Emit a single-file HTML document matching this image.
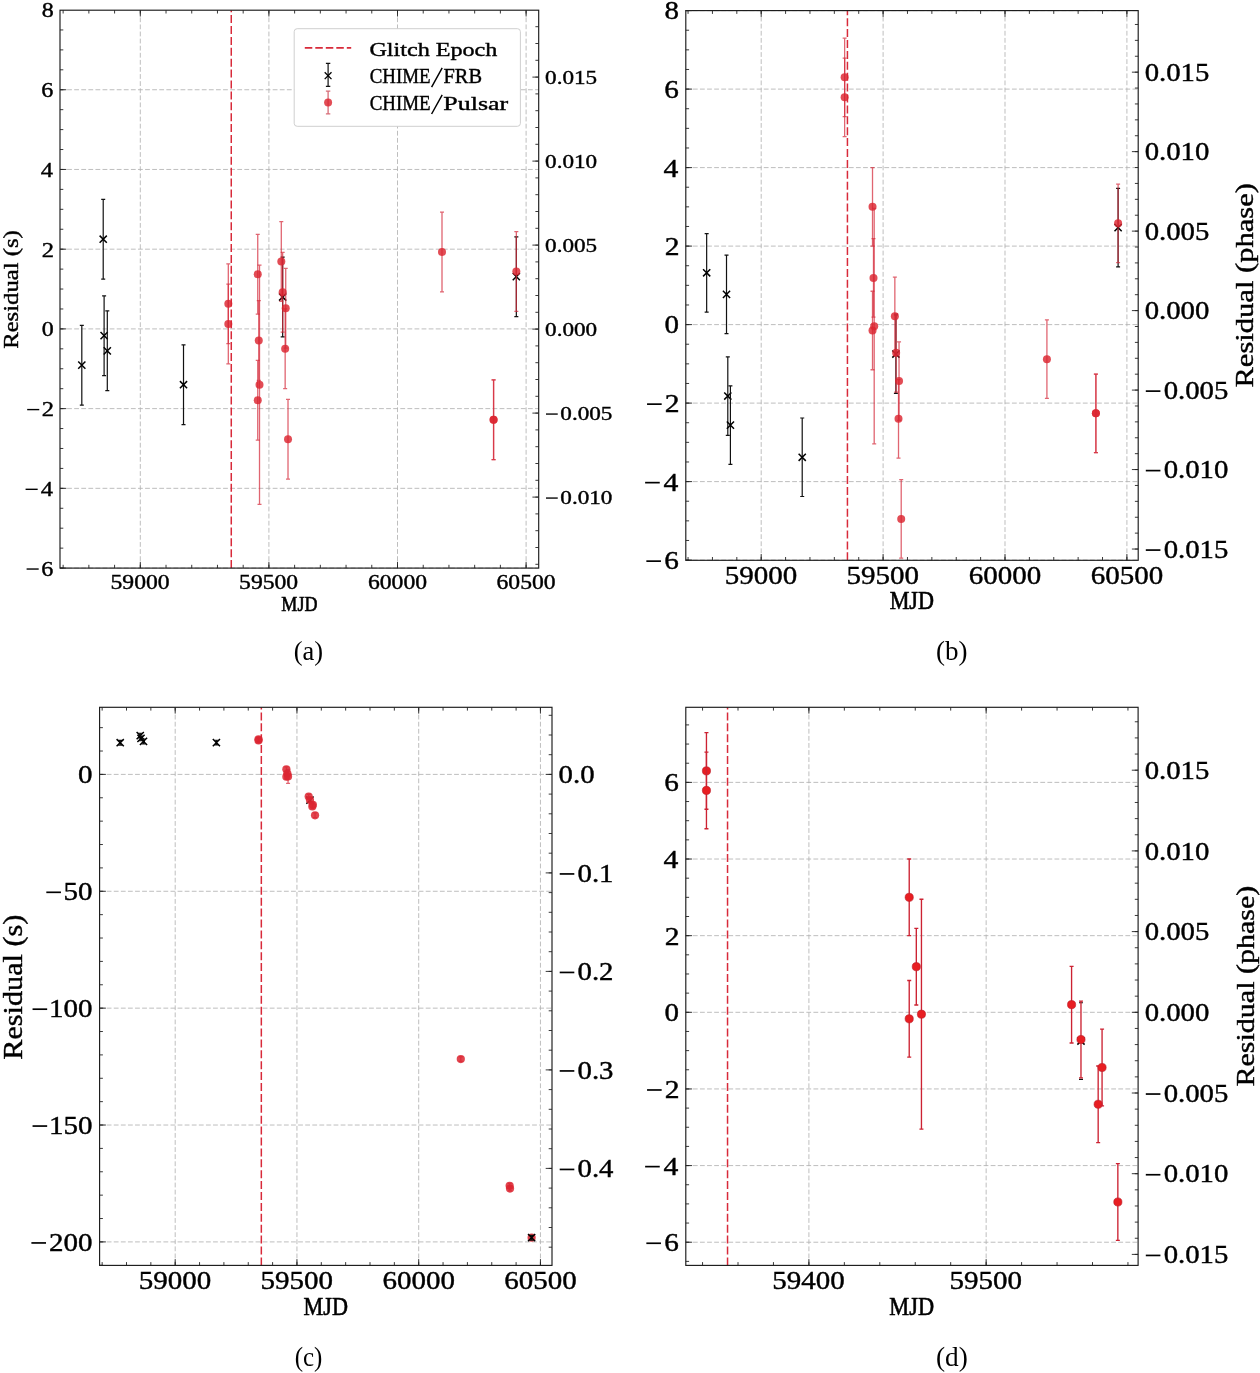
<!DOCTYPE html>
<html><head><meta charset="utf-8"><title>Residuals</title>
<style>html,body{margin:0;padding:0;background:#fff;}svg{display:block;will-change:transform;}text{font-family:"Liberation Serif",serif;stroke:#000;stroke-width:0.4px;}</style>
</head><body>
<svg width="1260" height="1373" viewBox="0 0 1260 1373" font-family='"Liberation Serif", serif' fill="#000">
<rect width="1260" height="1373" fill="#fff"/>
<g>
<line x1="140.3" y1="568.1" x2="140.3" y2="10.2" stroke="#b2b2b2" stroke-width="0.85" stroke-dasharray="4.8 2.29"/>
<line x1="268.9" y1="568.1" x2="268.9" y2="10.2" stroke="#b2b2b2" stroke-width="0.85" stroke-dasharray="4.8 2.29"/>
<line x1="397.5" y1="568.1" x2="397.5" y2="10.2" stroke="#b2b2b2" stroke-width="0.85" stroke-dasharray="4.8 2.29"/>
<line x1="526.1" y1="568.1" x2="526.1" y2="10.2" stroke="#b2b2b2" stroke-width="0.85" stroke-dasharray="4.8 2.29"/>
<line x1="60" y1="568.06" x2="538.7" y2="568.06" stroke="#b2b2b2" stroke-width="0.85" stroke-dasharray="4.8 2.29"/>
<line x1="60" y1="488.34" x2="538.7" y2="488.34" stroke="#b2b2b2" stroke-width="0.85" stroke-dasharray="4.8 2.29"/>
<line x1="60" y1="408.62" x2="538.7" y2="408.62" stroke="#b2b2b2" stroke-width="0.85" stroke-dasharray="4.8 2.29"/>
<line x1="60" y1="328.9" x2="538.7" y2="328.9" stroke="#b2b2b2" stroke-width="0.85" stroke-dasharray="4.8 2.29"/>
<line x1="60" y1="249.18" x2="538.7" y2="249.18" stroke="#b2b2b2" stroke-width="0.85" stroke-dasharray="4.8 2.29"/>
<line x1="60" y1="169.46" x2="538.7" y2="169.46" stroke="#b2b2b2" stroke-width="0.85" stroke-dasharray="4.8 2.29"/>
<line x1="60" y1="89.74" x2="538.7" y2="89.74" stroke="#b2b2b2" stroke-width="0.85" stroke-dasharray="4.8 2.29"/>
<clipPath id="ca"><rect x="60" y="10.2" width="478.7" height="557.9"/></clipPath>
<g clip-path="url(#ca)">
<line x1="231.27" y1="568.1" x2="231.27" y2="10.2" stroke="#d82a3a" stroke-width="1.5" stroke-dasharray="8 2.9"/>
<path d="M81.81 325.31V405.03M79.81 325.31H83.81M79.81 405.03H83.81" stroke="#111" stroke-width="1.2" fill="none"/>
<path d="M78.21 361.57L85.41 368.77M78.21 368.77L85.41 361.57" stroke="#000" stroke-width="1.5" fill="none"/>
<path d="M103.21 199.35V279.07M101.21 199.35H105.21M101.21 279.07H105.21" stroke="#111" stroke-width="1.2" fill="none"/>
<path d="M99.61 235.61L106.81 242.81M99.61 242.81L106.81 235.61" stroke="#000" stroke-width="1.5" fill="none"/>
<path d="M104.11 295.82V375.54M102.11 295.82H106.11M102.11 375.54H106.11" stroke="#111" stroke-width="1.2" fill="none"/>
<path d="M100.51 332.08L107.71 339.28M100.51 339.28L107.71 332.08" stroke="#000" stroke-width="1.5" fill="none"/>
<path d="M107.3 310.96V390.68M105.3 310.96H109.3M105.3 390.68H109.3" stroke="#111" stroke-width="1.2" fill="none"/>
<path d="M103.7 347.22L110.9 354.42M103.7 354.42L110.9 347.22" stroke="#000" stroke-width="1.5" fill="none"/>
<path d="M183.51 344.84V424.56M181.51 344.84H185.51M181.51 424.56H185.51" stroke="#111" stroke-width="1.2" fill="none"/>
<path d="M179.91 381.1L187.11 388.3M179.91 388.3L187.11 381.1" stroke="#000" stroke-width="1.5" fill="none"/>
<path d="M282.66 257.15V336.87M280.66 257.15H284.66M280.66 336.87H284.66" stroke="#111" stroke-width="1.2" fill="none"/>
<path d="M279.06 293.41L286.26 300.61M279.06 300.61L286.26 293.41" stroke="#000" stroke-width="1.5" fill="none"/>
<path d="M516.33 236.82V316.54M514.33 236.82H518.33M514.33 316.54H518.33" stroke="#111" stroke-width="1.2" fill="none"/>
<path d="M512.73 273.08L519.93 280.28M512.73 280.28L519.93 273.08" stroke="#000" stroke-width="1.5" fill="none"/>
<path d="M228.31 263.93V343.65M226.31 263.93H230.31M226.31 343.65H230.31" stroke="#d42a3a" stroke-opacity="0.72" stroke-width="1.3" fill="none"/>
<circle cx="228.31" cy="303.79" r="4.0" fill="#dc2430" fill-opacity="0.82" />
<path d="M228.31 284.06V363.78M226.31 284.06H230.31M226.31 363.78H230.31" stroke="#d42a3a" stroke-opacity="0.72" stroke-width="1.3" fill="none"/>
<circle cx="228.31" cy="323.92" r="4.0" fill="#dc2430" fill-opacity="0.82" />
<path d="M257.74 234.43V314.15M255.74 234.43H259.74M255.74 314.15H259.74" stroke="#d42a3a" stroke-opacity="0.72" stroke-width="1.3" fill="none"/>
<circle cx="257.74" cy="274.29" r="4.0" fill="#dc2430" fill-opacity="0.82" />
<path d="M257.74 360.39V440.11M255.74 360.39H259.74M255.74 440.11H259.74" stroke="#d42a3a" stroke-opacity="0.72" stroke-width="1.3" fill="none"/>
<circle cx="257.74" cy="400.25" r="4.0" fill="#dc2430" fill-opacity="0.82" />
<path d="M258.77 300.6V380.32M256.77 300.6H260.77M256.77 380.32H260.77" stroke="#d42a3a" stroke-opacity="0.72" stroke-width="1.3" fill="none"/>
<circle cx="258.77" cy="340.46" r="4.0" fill="#dc2430" fill-opacity="0.82" />
<path d="M259.51 265.12V504.28M257.51 265.12H261.51M257.51 504.28H261.51" stroke="#d42a3a" stroke-opacity="0.72" stroke-width="1.3" fill="none"/>
<circle cx="259.51" cy="384.7" r="4.0" fill="#dc2430" fill-opacity="0.82" />
<path d="M281.3 221.68V301.4M279.3 221.68H283.3M279.3 301.4H283.3" stroke="#d42a3a" stroke-opacity="0.72" stroke-width="1.3" fill="none"/>
<circle cx="281.3" cy="261.54" r="4.0" fill="#dc2430" fill-opacity="0.82" />
<path d="M282.66 252.37V332.09M280.66 252.37H284.66M280.66 332.09H284.66" stroke="#d42a3a" stroke-opacity="0.72" stroke-width="1.3" fill="none"/>
<circle cx="282.66" cy="292.23" r="4.0" fill="#dc2430" fill-opacity="0.82" />
<path d="M285.16 308.97V388.69M283.16 308.97H287.16M283.16 388.69H287.16" stroke="#d42a3a" stroke-opacity="0.72" stroke-width="1.3" fill="none"/>
<circle cx="285.16" cy="348.83" r="4.0" fill="#dc2430" fill-opacity="0.82" />
<path d="M285.72 268.31V348.03M283.72 268.31H287.72M283.72 348.03H287.72" stroke="#d42a3a" stroke-opacity="0.72" stroke-width="1.3" fill="none"/>
<circle cx="285.72" cy="308.17" r="4.0" fill="#dc2430" fill-opacity="0.82" />
<path d="M288.01 399.45V479.17M286.01 399.45H290.01M286.01 479.17H290.01" stroke="#d42a3a" stroke-opacity="0.72" stroke-width="1.3" fill="none"/>
<circle cx="288.01" cy="439.31" r="4.0" fill="#dc2430" fill-opacity="0.82" />
<path d="M442 212.11V291.83M440 212.11H444M440 291.83H444" stroke="#d42a3a" stroke-opacity="0.72" stroke-width="1.3" fill="none"/>
<circle cx="442" cy="251.97" r="4.0" fill="#dc2430" fill-opacity="0.82" />
<path d="M493.59 379.92V459.64M491.59 379.92H495.59M491.59 459.64H495.59" stroke="#d42a3a" stroke-opacity="0.72" stroke-width="1.3" fill="none"/>
<circle cx="493.59" cy="419.78" r="4.0" fill="#dc2430" fill-opacity="0.82" />
<path d="M493.59 379.92V459.64M491.59 379.92H495.59M491.59 459.64H495.59" stroke="#d42a3a" stroke-opacity="0.72" stroke-width="1.3" fill="none"/>
<circle cx="493.59" cy="419.78" r="4.0" fill="#dc2430" fill-opacity="0.82" />
<path d="M516.33 231.64V311.36M514.33 231.64H518.33M514.33 311.36H518.33" stroke="#d42a3a" stroke-opacity="0.72" stroke-width="1.3" fill="none"/>
<circle cx="516.33" cy="271.5" r="4.0" fill="#dc2430" fill-opacity="0.82" />
</g>
<rect x="60" y="10.2" width="478.7" height="557.9" fill="none" stroke="#1a1a1a" stroke-width="1.15"/>
<path d="M63.14 568.1v-3.3M63.14 10.2v3.3M88.86 568.1v-3.3M88.86 10.2v3.3M114.58 568.1v-3.3M114.58 10.2v3.3M140.3 568.1v-3.3M140.3 10.2v3.3M166.02 568.1v-3.3M166.02 10.2v3.3M191.74 568.1v-3.3M191.74 10.2v3.3M217.46 568.1v-3.3M217.46 10.2v3.3M243.18 568.1v-3.3M243.18 10.2v3.3M268.9 568.1v-3.3M268.9 10.2v3.3M294.62 568.1v-3.3M294.62 10.2v3.3M320.34 568.1v-3.3M320.34 10.2v3.3M346.06 568.1v-3.3M346.06 10.2v3.3M371.78 568.1v-3.3M371.78 10.2v3.3M397.5 568.1v-3.3M397.5 10.2v3.3M423.22 568.1v-3.3M423.22 10.2v3.3M448.94 568.1v-3.3M448.94 10.2v3.3M474.66 568.1v-3.3M474.66 10.2v3.3M500.38 568.1v-3.3M500.38 10.2v3.3M526.1 568.1v-3.3M526.1 10.2v3.3M140.3 568.1v-6.3M140.3 10.2v6.3M268.9 568.1v-6.3M268.9 10.2v6.3M397.5 568.1v-6.3M397.5 10.2v6.3M526.1 568.1v-6.3M526.1 10.2v6.3M60 568.06h3.3M60 548.13h3.3M60 528.2h3.3M60 508.27h3.3M60 488.34h3.3M60 468.41h3.3M60 448.48h3.3M60 428.55h3.3M60 408.62h3.3M60 388.69h3.3M60 368.76h3.3M60 348.83h3.3M60 328.9h3.3M60 308.97h3.3M60 289.04h3.3M60 269.11h3.3M60 249.18h3.3M60 229.25h3.3M60 209.32h3.3M60 189.39h3.3M60 169.46h3.3M60 149.53h3.3M60 129.6h3.3M60 109.67h3.3M60 89.74h3.3M60 69.81h3.3M60 49.88h3.3M60 29.95h3.3M60 568.06h6.3M60 488.34h6.3M60 408.62h6.3M60 328.9h6.3M60 249.18h6.3M60 169.46h6.3M60 89.74h6.3M538.7 564.3h-3.3M538.7 547.5h-3.3M538.7 530.7h-3.3M538.7 513.9h-3.3M538.7 497.1h-3.3M538.7 480.3h-3.3M538.7 463.5h-3.3M538.7 446.7h-3.3M538.7 429.9h-3.3M538.7 413.1h-3.3M538.7 396.3h-3.3M538.7 379.5h-3.3M538.7 362.7h-3.3M538.7 345.9h-3.3M538.7 329.1h-3.3M538.7 312.3h-3.3M538.7 295.5h-3.3M538.7 278.7h-3.3M538.7 261.9h-3.3M538.7 245.1h-3.3M538.7 228.3h-3.3M538.7 211.5h-3.3M538.7 194.7h-3.3M538.7 177.9h-3.3M538.7 161.1h-3.3M538.7 144.3h-3.3M538.7 127.5h-3.3M538.7 110.7h-3.3M538.7 93.9h-3.3M538.7 77.1h-3.3M538.7 60.3h-3.3M538.7 43.5h-3.3M538.7 26.7h-3.3M538.7 77.1h-6.3M538.7 161.1h-6.3M538.7 245.1h-6.3M538.7 329.1h-6.3M538.7 413.1h-6.3M538.7 497.1h-6.3" stroke="#222" stroke-width="0.9" fill="none"/>
<rect x="26.6" y="568.34" width="12.09" height="1.39"/>
<text transform="translate(41.34,575.5) scale(1.1650,1)" font-size="20.746">6</text>
<rect x="25.58" y="488.62" width="12.09" height="1.39"/>
<text transform="translate(40.8,495.99) scale(1.1650,1)" font-size="21.061">4</text>
<rect x="27.18" y="408.9" width="12.09" height="1.39"/>
<text transform="translate(41.78,416.27) scale(1.1650,1)" font-size="21.061">2</text>
<text transform="translate(41.66,336.34) scale(1.1650,1)" font-size="20.593">0</text>
<text transform="translate(41.78,256.83) scale(1.1650,1)" font-size="21.061">2</text>
<text transform="translate(40.8,177.11) scale(1.1650,1)" font-size="21.061">4</text>
<text transform="translate(41.34,97.18) scale(1.1650,1)" font-size="20.746">6</text>
<text transform="translate(41.66,17.46) scale(1.1650,1)" font-size="20.593">8</text>
<text transform="translate(545.07,84.25) scale(1.1650,1)" font-size="19.853">0.015</text>
<text transform="translate(545.07,168.25) scale(1.1650,1)" font-size="19.853">0.010</text>
<text transform="translate(545.07,252.25) scale(1.1650,1)" font-size="19.853">0.005</text>
<text transform="translate(545.07,336.25) scale(1.1650,1)" font-size="19.853">0.000</text>
<rect x="546" y="413.39" width="11.74" height="1.35"/>
<text transform="translate(560.33,420.25) scale(1.1650,1)" font-size="19.853">0.005</text>
<rect x="546" y="497.39" width="11.74" height="1.35"/>
<text transform="translate(560.33,504.25) scale(1.1650,1)" font-size="19.853">0.010</text>
<text transform="translate(110.51,588.5) scale(1.1650,1)" font-size="20.296">59000</text>
<text transform="translate(239.11,588.5) scale(1.1650,1)" font-size="20.296">59500</text>
<text transform="translate(367.94,588.5) scale(1.1650,1)" font-size="20.296">60000</text>
<text transform="translate(496.54,588.5) scale(1.1650,1)" font-size="20.296">60500</text>
</g>
<g>
<line x1="761.2" y1="560.3" x2="761.2" y2="10.6" stroke="#b2b2b2" stroke-width="0.85" stroke-dasharray="4.8 2.29"/>
<line x1="883.1" y1="560.3" x2="883.1" y2="10.6" stroke="#b2b2b2" stroke-width="0.85" stroke-dasharray="4.8 2.29"/>
<line x1="1005" y1="560.3" x2="1005" y2="10.6" stroke="#b2b2b2" stroke-width="0.85" stroke-dasharray="4.8 2.29"/>
<line x1="1126.9" y1="560.3" x2="1126.9" y2="10.6" stroke="#b2b2b2" stroke-width="0.85" stroke-dasharray="4.8 2.29"/>
<line x1="685.8" y1="560.1" x2="1138.2" y2="560.1" stroke="#b2b2b2" stroke-width="0.85" stroke-dasharray="4.8 2.29"/>
<line x1="685.8" y1="481.6" x2="1138.2" y2="481.6" stroke="#b2b2b2" stroke-width="0.85" stroke-dasharray="4.8 2.29"/>
<line x1="685.8" y1="403.1" x2="1138.2" y2="403.1" stroke="#b2b2b2" stroke-width="0.85" stroke-dasharray="4.8 2.29"/>
<line x1="685.8" y1="324.6" x2="1138.2" y2="324.6" stroke="#b2b2b2" stroke-width="0.85" stroke-dasharray="4.8 2.29"/>
<line x1="685.8" y1="246.1" x2="1138.2" y2="246.1" stroke="#b2b2b2" stroke-width="0.85" stroke-dasharray="4.8 2.29"/>
<line x1="685.8" y1="167.6" x2="1138.2" y2="167.6" stroke="#b2b2b2" stroke-width="0.85" stroke-dasharray="4.8 2.29"/>
<line x1="685.8" y1="89.1" x2="1138.2" y2="89.1" stroke="#b2b2b2" stroke-width="0.85" stroke-dasharray="4.8 2.29"/>
<line x1="685.8" y1="10.6" x2="1138.2" y2="10.6" stroke="#b2b2b2" stroke-width="0.85" stroke-dasharray="4.8 2.29"/>
<clipPath id="cb"><rect x="685.8" y="10.6" width="452.4" height="549.7"/></clipPath>
<g clip-path="url(#cb)">
<line x1="847.43" y1="560.3" x2="847.43" y2="10.6" stroke="#d82a3a" stroke-width="1.5" stroke-dasharray="8 2.9"/>
<path d="M706.66 233.54V312.04M704.66 233.54H708.66M704.66 312.04H708.66" stroke="#111" stroke-width="1.2" fill="none"/>
<path d="M703.06 269.19L710.26 276.39M703.06 276.39L710.26 269.19" stroke="#000" stroke-width="1.5" fill="none"/>
<path d="M726.51 255.13V333.63M724.51 255.13H728.51M724.51 333.63H728.51" stroke="#111" stroke-width="1.2" fill="none"/>
<path d="M722.91 290.78L730.11 297.98M722.91 297.98L730.11 290.78" stroke="#000" stroke-width="1.5" fill="none"/>
<path d="M727.8 356.79V435.29M725.8 356.79H729.8M725.8 435.29H729.8" stroke="#111" stroke-width="1.2" fill="none"/>
<path d="M724.2 392.44L731.4 399.64M724.2 399.64L731.4 392.44" stroke="#000" stroke-width="1.5" fill="none"/>
<path d="M730.41 385.83V464.33M728.41 385.83H732.41M728.41 464.33H732.41" stroke="#111" stroke-width="1.2" fill="none"/>
<path d="M726.81 421.48L734.01 428.68M726.81 428.68L734.01 421.48" stroke="#000" stroke-width="1.5" fill="none"/>
<path d="M802.21 418.01V496.51M800.21 418.01H804.21M800.21 496.51H804.21" stroke="#111" stroke-width="1.2" fill="none"/>
<path d="M798.61 453.66L805.81 460.87M798.61 460.87L805.81 453.66" stroke="#000" stroke-width="1.5" fill="none"/>
<path d="M895.9 314.79V393.29M893.9 314.79H897.9M893.9 393.29H897.9" stroke="#111" stroke-width="1.2" fill="none"/>
<path d="M892.3 350.44L899.5 357.64M892.3 357.64L899.5 350.44" stroke="#000" stroke-width="1.5" fill="none"/>
<path d="M1118.1 188.4V266.9M1116.1 188.4H1120.1M1116.1 266.9H1120.1" stroke="#111" stroke-width="1.2" fill="none"/>
<path d="M1114.5 224.05L1121.7 231.25M1114.5 231.25L1121.7 224.05" stroke="#000" stroke-width="1.5" fill="none"/>
<path d="M844.63 38.08V116.58M842.63 38.08H846.63M842.63 116.58H846.63" stroke="#d42a3a" stroke-opacity="0.72" stroke-width="1.3" fill="none"/>
<circle cx="844.63" cy="77.33" r="4.0" fill="#dc2430" fill-opacity="0.82" />
<path d="M844.63 58.09V136.59M842.63 58.09H846.63M842.63 136.59H846.63" stroke="#d42a3a" stroke-opacity="0.72" stroke-width="1.3" fill="none"/>
<circle cx="844.63" cy="97.34" r="4.0" fill="#dc2430" fill-opacity="0.82" />
<path d="M872.52 167.6V246.1M870.52 167.6H874.52M870.52 246.1H874.52" stroke="#d42a3a" stroke-opacity="0.72" stroke-width="1.3" fill="none"/>
<circle cx="872.52" cy="206.85" r="4.0" fill="#dc2430" fill-opacity="0.82" />
<path d="M872.52 291.24V369.74M870.52 291.24H874.52M870.52 369.74H874.52" stroke="#d42a3a" stroke-opacity="0.72" stroke-width="1.3" fill="none"/>
<circle cx="872.52" cy="330.49" r="4.0" fill="#dc2430" fill-opacity="0.82" />
<path d="M873.49 238.64V317.14M871.49 238.64H875.49M871.49 317.14H875.49" stroke="#d42a3a" stroke-opacity="0.72" stroke-width="1.3" fill="none"/>
<circle cx="873.49" cy="277.89" r="4.0" fill="#dc2430" fill-opacity="0.82" />
<path d="M874.2 208.42V443.92M872.2 208.42H876.2M872.2 443.92H876.2" stroke="#d42a3a" stroke-opacity="0.72" stroke-width="1.3" fill="none"/>
<circle cx="874.2" cy="326.17" r="4.0" fill="#dc2430" fill-opacity="0.82" />
<path d="M894.85 277.11V355.61M892.85 277.11H896.85M892.85 355.61H896.85" stroke="#d42a3a" stroke-opacity="0.72" stroke-width="1.3" fill="none"/>
<circle cx="894.85" cy="316.36" r="4.0" fill="#dc2430" fill-opacity="0.82" />
<path d="M896.14 313.61V392.11M894.14 313.61H898.14M894.14 392.11H898.14" stroke="#d42a3a" stroke-opacity="0.72" stroke-width="1.3" fill="none"/>
<circle cx="896.14" cy="352.86" r="4.0" fill="#dc2430" fill-opacity="0.82" />
<path d="M898.51 379.55V458.05M896.51 379.55H900.51M896.51 458.05H900.51" stroke="#d42a3a" stroke-opacity="0.72" stroke-width="1.3" fill="none"/>
<circle cx="898.51" cy="418.8" r="4.0" fill="#dc2430" fill-opacity="0.82" />
<path d="M899.04 341.87V420.37M897.04 341.87H901.04M897.04 420.37H901.04" stroke="#d42a3a" stroke-opacity="0.72" stroke-width="1.3" fill="none"/>
<circle cx="899.04" cy="381.12" r="4.0" fill="#dc2430" fill-opacity="0.82" />
<path d="M901.21 479.64V558.14M899.21 479.64H903.21M899.21 558.14H903.21" stroke="#d42a3a" stroke-opacity="0.72" stroke-width="1.3" fill="none"/>
<circle cx="901.21" cy="518.89" r="4.0" fill="#dc2430" fill-opacity="0.82" />
<path d="M1046.91 319.89V398.39M1044.91 319.89H1048.91M1044.91 398.39H1048.91" stroke="#d42a3a" stroke-opacity="0.72" stroke-width="1.3" fill="none"/>
<circle cx="1046.91" cy="359.14" r="4.0" fill="#dc2430" fill-opacity="0.82" />
<path d="M1095.89 374.06V452.56M1093.89 374.06H1097.89M1093.89 452.56H1097.89" stroke="#d42a3a" stroke-opacity="0.72" stroke-width="1.3" fill="none"/>
<circle cx="1095.89" cy="413.31" r="4.0" fill="#dc2430" fill-opacity="0.82" />
<path d="M1095.89 374.06V452.56M1093.89 374.06H1097.89M1093.89 452.56H1097.89" stroke="#d42a3a" stroke-opacity="0.72" stroke-width="1.3" fill="none"/>
<circle cx="1095.89" cy="413.31" r="4.0" fill="#dc2430" fill-opacity="0.82" />
<path d="M1118.1 184.09V262.59M1116.1 184.09H1120.1M1116.1 262.59H1120.1" stroke="#d42a3a" stroke-opacity="0.72" stroke-width="1.3" fill="none"/>
<circle cx="1118.1" cy="223.34" r="4.0" fill="#dc2430" fill-opacity="0.82" />
</g>
<rect x="685.8" y="10.6" width="452.4" height="549.7" fill="none" stroke="#1a1a1a" stroke-width="1.15"/>
<path d="M688.06 560.3v-3.3M688.06 10.6v3.3M712.44 560.3v-3.3M712.44 10.6v3.3M736.82 560.3v-3.3M736.82 10.6v3.3M761.2 560.3v-3.3M761.2 10.6v3.3M785.58 560.3v-3.3M785.58 10.6v3.3M809.96 560.3v-3.3M809.96 10.6v3.3M834.34 560.3v-3.3M834.34 10.6v3.3M858.72 560.3v-3.3M858.72 10.6v3.3M883.1 560.3v-3.3M883.1 10.6v3.3M907.48 560.3v-3.3M907.48 10.6v3.3M931.86 560.3v-3.3M931.86 10.6v3.3M956.24 560.3v-3.3M956.24 10.6v3.3M980.62 560.3v-3.3M980.62 10.6v3.3M1005 560.3v-3.3M1005 10.6v3.3M1029.38 560.3v-3.3M1029.38 10.6v3.3M1053.76 560.3v-3.3M1053.76 10.6v3.3M1078.14 560.3v-3.3M1078.14 10.6v3.3M1102.52 560.3v-3.3M1102.52 10.6v3.3M1126.9 560.3v-3.3M1126.9 10.6v3.3M761.2 560.3v-6.3M761.2 10.6v6.3M883.1 560.3v-6.3M883.1 10.6v6.3M1005 560.3v-6.3M1005 10.6v6.3M1126.9 560.3v-6.3M1126.9 10.6v6.3M685.8 560.1h3.3M685.8 540.48h3.3M685.8 520.85h3.3M685.8 501.23h3.3M685.8 481.6h3.3M685.8 461.98h3.3M685.8 442.35h3.3M685.8 422.73h3.3M685.8 403.1h3.3M685.8 383.48h3.3M685.8 363.85h3.3M685.8 344.23h3.3M685.8 324.6h3.3M685.8 304.98h3.3M685.8 285.35h3.3M685.8 265.73h3.3M685.8 246.1h3.3M685.8 226.48h3.3M685.8 206.85h3.3M685.8 187.23h3.3M685.8 167.6h3.3M685.8 147.98h3.3M685.8 128.35h3.3M685.8 108.73h3.3M685.8 89.1h3.3M685.8 69.48h3.3M685.8 49.85h3.3M685.8 30.23h3.3M685.8 10.6h3.3M685.8 560.1h6.3M685.8 481.6h6.3M685.8 403.1h6.3M685.8 324.6h6.3M685.8 246.1h6.3M685.8 167.6h6.3M685.8 89.1h6.3M685.8 10.6h6.3M1138.2 549.04h-3.3M1138.2 533.14h-3.3M1138.2 517.25h-3.3M1138.2 501.35h-3.3M1138.2 485.46h-3.3M1138.2 469.56h-3.3M1138.2 453.66h-3.3M1138.2 437.77h-3.3M1138.2 421.87h-3.3M1138.2 405.98h-3.3M1138.2 390.08h-3.3M1138.2 374.18h-3.3M1138.2 358.29h-3.3M1138.2 342.39h-3.3M1138.2 326.5h-3.3M1138.2 310.6h-3.3M1138.2 294.7h-3.3M1138.2 278.81h-3.3M1138.2 262.91h-3.3M1138.2 247.02h-3.3M1138.2 231.12h-3.3M1138.2 215.22h-3.3M1138.2 199.33h-3.3M1138.2 183.43h-3.3M1138.2 167.54h-3.3M1138.2 151.64h-3.3M1138.2 135.74h-3.3M1138.2 119.85h-3.3M1138.2 103.95h-3.3M1138.2 88.06h-3.3M1138.2 72.16h-3.3M1138.2 56.26h-3.3M1138.2 40.37h-3.3M1138.2 24.47h-3.3M1138.2 72.16h-6.3M1138.2 151.64h-6.3M1138.2 231.12h-6.3M1138.2 310.6h-6.3M1138.2 390.08h-6.3M1138.2 469.56h-6.3M1138.2 549.04h-6.3" stroke="#222" stroke-width="0.9" fill="none"/>
<rect x="646.35" y="560.3" width="14.62" height="1.68"/>
<text transform="translate(664.17,568.95) scale(1.1650,1)" font-size="25.075">6</text>
<rect x="645.13" y="481.8" width="14.62" height="1.68"/>
<text transform="translate(663.52,490.7) scale(1.1650,1)" font-size="25.455">4</text>
<rect x="647.05" y="403.3" width="14.62" height="1.68"/>
<text transform="translate(664.7,412.2) scale(1.1650,1)" font-size="25.455">2</text>
<text transform="translate(664.56,333.45) scale(1.1650,1)" font-size="24.889">0</text>
<text transform="translate(664.7,255.2) scale(1.1650,1)" font-size="25.455">2</text>
<text transform="translate(663.52,176.7) scale(1.1650,1)" font-size="25.455">4</text>
<text transform="translate(664.17,97.95) scale(1.1650,1)" font-size="25.075">6</text>
<text transform="translate(664.56,19.45) scale(1.1650,1)" font-size="24.889">8</text>
<text transform="translate(1144.65,80.89) scale(1.1650,1)" font-size="24.706">0.015</text>
<text transform="translate(1144.65,160.37) scale(1.1650,1)" font-size="24.706">0.010</text>
<text transform="translate(1144.65,239.85) scale(1.1650,1)" font-size="24.706">0.005</text>
<text transform="translate(1144.65,319.33) scale(1.1650,1)" font-size="24.706">0.000</text>
<rect x="1145.8" y="390.28" width="14.62" height="1.68"/>
<text transform="translate(1163.63,398.81) scale(1.1650,1)" font-size="24.706">0.005</text>
<rect x="1145.8" y="469.76" width="14.62" height="1.68"/>
<text transform="translate(1163.63,478.29) scale(1.1650,1)" font-size="24.706">0.010</text>
<rect x="1145.8" y="549.24" width="14.62" height="1.68"/>
<text transform="translate(1163.63,557.77) scale(1.1650,1)" font-size="24.706">0.015</text>
<text transform="translate(724.67,583.55) scale(1.1650,1)" font-size="24.889">59000</text>
<text transform="translate(846.57,583.55) scale(1.1650,1)" font-size="24.889">59500</text>
<text transform="translate(968.76,583.55) scale(1.1650,1)" font-size="24.889">60000</text>
<text transform="translate(1090.66,583.55) scale(1.1650,1)" font-size="24.889">60500</text>
</g>
<g>
<line x1="175.2" y1="1265.4" x2="175.2" y2="707.3" stroke="#b2b2b2" stroke-width="0.85" stroke-dasharray="4.8 2.29"/>
<line x1="296.95" y1="1265.4" x2="296.95" y2="707.3" stroke="#b2b2b2" stroke-width="0.85" stroke-dasharray="4.8 2.29"/>
<line x1="418.7" y1="1265.4" x2="418.7" y2="707.3" stroke="#b2b2b2" stroke-width="0.85" stroke-dasharray="4.8 2.29"/>
<line x1="540.45" y1="1265.4" x2="540.45" y2="707.3" stroke="#b2b2b2" stroke-width="0.85" stroke-dasharray="4.8 2.29"/>
<line x1="99.6" y1="1241.9" x2="552" y2="1241.9" stroke="#b2b2b2" stroke-width="0.85" stroke-dasharray="4.8 2.29"/>
<line x1="99.6" y1="1125.03" x2="552" y2="1125.03" stroke="#b2b2b2" stroke-width="0.85" stroke-dasharray="4.8 2.29"/>
<line x1="99.6" y1="1008.15" x2="552" y2="1008.15" stroke="#b2b2b2" stroke-width="0.85" stroke-dasharray="4.8 2.29"/>
<line x1="99.6" y1="891.27" x2="552" y2="891.27" stroke="#b2b2b2" stroke-width="0.85" stroke-dasharray="4.8 2.29"/>
<line x1="99.6" y1="774.4" x2="552" y2="774.4" stroke="#b2b2b2" stroke-width="0.85" stroke-dasharray="4.8 2.29"/>
<clipPath id="cc"><rect x="99.6" y="707.3" width="452.4" height="558.1"/></clipPath>
<g clip-path="url(#cc)">
<line x1="261.33" y1="1265.4" x2="261.33" y2="707.3" stroke="#d82a3a" stroke-width="1.5" stroke-dasharray="8 2.9"/>
<path d="M120.19 740.37V745.04M118.19 740.37H122.19M118.19 745.04H122.19" stroke="#111" stroke-width="1.2" fill="none"/>
<path d="M116.59 739.1L123.79 746.3M116.59 746.3L123.79 739.1" stroke="#000" stroke-width="1.5" fill="none"/>
<path d="M140.21 733.26V737.93M138.21 733.26H142.21M138.21 737.93H142.21" stroke="#111" stroke-width="1.2" fill="none"/>
<path d="M136.61 732L143.81 739.2M136.61 739.2L143.81 732" stroke="#000" stroke-width="1.5" fill="none"/>
<path d="M141.01 736.06V740.74M139.01 736.06H143.01M139.01 740.74H143.01" stroke="#111" stroke-width="1.2" fill="none"/>
<path d="M137.41 734.8L144.61 742M137.41 742L144.61 734.8" stroke="#000" stroke-width="1.5" fill="none"/>
<path d="M143.5 739.1V743.78M141.5 739.1H145.5M141.5 743.78H145.5" stroke="#111" stroke-width="1.2" fill="none"/>
<path d="M139.9 737.84L147.1 745.04M139.9 745.04L147.1 737.84" stroke="#000" stroke-width="1.5" fill="none"/>
<path d="M216.4 740.27V744.95M214.4 740.27H218.4M214.4 744.95H218.4" stroke="#111" stroke-width="1.2" fill="none"/>
<path d="M212.8 739.01L220 746.21M212.8 746.21L220 739.01" stroke="#000" stroke-width="1.5" fill="none"/>
<path d="M309.98 797.77V802.45M307.98 797.77H311.98M307.98 802.45H311.98" stroke="#111" stroke-width="1.2" fill="none"/>
<path d="M306.38 796.51L313.58 803.71M306.38 803.71L313.58 796.51" stroke="#000" stroke-width="1.5" fill="none"/>
<path d="M258.53 737V741.67M256.53 737H260.53M256.53 741.67H260.53" stroke="#d42a3a" stroke-opacity="0.72" stroke-width="1.3" fill="none"/>
<circle cx="258.53" cy="739.34" r="4.1" fill="#dc2430" fill-opacity="0.85" />
<path d="M258.53 738.17V742.84M256.53 738.17H260.53M256.53 742.84H260.53" stroke="#d42a3a" stroke-opacity="0.72" stroke-width="1.3" fill="none"/>
<circle cx="258.53" cy="740.51" r="4.1" fill="#dc2430" fill-opacity="0.85" />
<path d="M286.38 766.92V771.6M284.38 766.92H288.38M284.38 771.6H288.38" stroke="#d42a3a" stroke-opacity="0.72" stroke-width="1.3" fill="none"/>
<circle cx="286.38" cy="769.26" r="4.1" fill="#dc2430" fill-opacity="0.85" />
<path d="M286.38 774.33V779M284.38 774.33H288.38M284.38 779H288.38" stroke="#d42a3a" stroke-opacity="0.72" stroke-width="1.3" fill="none"/>
<circle cx="286.38" cy="776.67" r="4.1" fill="#dc2430" fill-opacity="0.85" />
<path d="M287.36 771.15V775.83M285.36 771.15H289.36M285.36 775.83H289.36" stroke="#d42a3a" stroke-opacity="0.72" stroke-width="1.3" fill="none"/>
<circle cx="287.36" cy="773.49" r="4.1" fill="#dc2430" fill-opacity="0.85" />
<path d="M288.06 769.37V783.4M286.06 769.37H290.06M286.06 783.4H290.06" stroke="#d42a3a" stroke-opacity="0.72" stroke-width="1.3" fill="none"/>
<circle cx="288.06" cy="776.39" r="4.1" fill="#dc2430" fill-opacity="0.85" />
<path d="M308.69 794.27V798.94M306.69 794.27H310.69M306.69 798.94H310.69" stroke="#d42a3a" stroke-opacity="0.72" stroke-width="1.3" fill="none"/>
<circle cx="308.69" cy="796.61" r="4.1" fill="#dc2430" fill-opacity="0.85" />
<path d="M309.98 797.77V802.45M307.98 797.77H311.98M307.98 802.45H311.98" stroke="#d42a3a" stroke-opacity="0.72" stroke-width="1.3" fill="none"/>
<circle cx="309.98" cy="800.11" r="4.1" fill="#dc2430" fill-opacity="0.85" />
<path d="M312.34 804.09V808.76M310.34 804.09H314.34M310.34 808.76H314.34" stroke="#d42a3a" stroke-opacity="0.72" stroke-width="1.3" fill="none"/>
<circle cx="312.34" cy="806.42" r="4.1" fill="#dc2430" fill-opacity="0.85" />
<path d="M312.87 802.45V807.12M310.87 802.45H314.87M310.87 807.12H314.87" stroke="#d42a3a" stroke-opacity="0.72" stroke-width="1.3" fill="none"/>
<circle cx="312.87" cy="804.79" r="4.1" fill="#dc2430" fill-opacity="0.85" />
<path d="M315.04 812.97V817.64M313.04 812.97H317.04M313.04 817.64H317.04" stroke="#d42a3a" stroke-opacity="0.72" stroke-width="1.3" fill="none"/>
<circle cx="315.04" cy="815.31" r="4.1" fill="#dc2430" fill-opacity="0.85" />
<path d="M460.8 1056.77V1061.44M458.8 1056.77H462.8M458.8 1061.44H462.8" stroke="#d42a3a" stroke-opacity="0.72" stroke-width="1.3" fill="none"/>
<circle cx="460.8" cy="1059.11" r="4.1" fill="#dc2430" fill-opacity="0.85" />
<path d="M509.65 1183.46V1188.14M507.65 1183.46H511.65M507.65 1188.14H511.65" stroke="#d42a3a" stroke-opacity="0.72" stroke-width="1.3" fill="none"/>
<circle cx="509.65" cy="1185.8" r="4.1" fill="#dc2430" fill-opacity="0.85" />
<path d="M510.01 1186.27V1190.94M508.01 1186.27H512.01M508.01 1190.94H512.01" stroke="#d42a3a" stroke-opacity="0.72" stroke-width="1.3" fill="none"/>
<circle cx="510.01" cy="1188.61" r="4.1" fill="#dc2430" fill-opacity="0.85" />
<path d="M531.61 1235.36V1240.03M529.61 1235.36H533.61M529.61 1240.03H533.61" stroke="#d42a3a" stroke-opacity="0.72" stroke-width="1.3" fill="none"/>
<circle cx="531.61" cy="1237.69" r="4.1" fill="#dc2430" fill-opacity="0.85" />
<path d="M531.61 1235.36V1240.03M529.61 1235.36H533.61M529.61 1240.03H533.61" stroke="#111" stroke-width="1.2" fill="none"/>
<path d="M528.01 1234.09L535.21 1241.29M528.01 1241.29L535.21 1234.09" stroke="#000" stroke-width="1.5" fill="none"/>
</g>
<rect x="99.6" y="707.3" width="452.4" height="558.1" fill="none" stroke="#1a1a1a" stroke-width="1.15"/>
<path d="M102.15 1265.4v-3.3M102.15 707.3v3.3M126.5 1265.4v-3.3M126.5 707.3v3.3M150.85 1265.4v-3.3M150.85 707.3v3.3M175.2 1265.4v-3.3M175.2 707.3v3.3M199.55 1265.4v-3.3M199.55 707.3v3.3M223.9 1265.4v-3.3M223.9 707.3v3.3M248.25 1265.4v-3.3M248.25 707.3v3.3M272.6 1265.4v-3.3M272.6 707.3v3.3M296.95 1265.4v-3.3M296.95 707.3v3.3M321.3 1265.4v-3.3M321.3 707.3v3.3M345.65 1265.4v-3.3M345.65 707.3v3.3M370 1265.4v-3.3M370 707.3v3.3M394.35 1265.4v-3.3M394.35 707.3v3.3M418.7 1265.4v-3.3M418.7 707.3v3.3M443.05 1265.4v-3.3M443.05 707.3v3.3M467.4 1265.4v-3.3M467.4 707.3v3.3M491.75 1265.4v-3.3M491.75 707.3v3.3M516.1 1265.4v-3.3M516.1 707.3v3.3M540.45 1265.4v-3.3M540.45 707.3v3.3M175.2 1265.4v-6.3M175.2 707.3v6.3M296.95 1265.4v-6.3M296.95 707.3v6.3M418.7 1265.4v-6.3M418.7 707.3v6.3M540.45 1265.4v-6.3M540.45 707.3v6.3M99.6 1265.28h3.3M99.6 1241.9h3.3M99.6 1218.53h3.3M99.6 1195.15h3.3M99.6 1171.78h3.3M99.6 1148.4h3.3M99.6 1125.03h3.3M99.6 1101.65h3.3M99.6 1078.28h3.3M99.6 1054.9h3.3M99.6 1031.53h3.3M99.6 1008.15h3.3M99.6 984.77h3.3M99.6 961.4h3.3M99.6 938.02h3.3M99.6 914.65h3.3M99.6 891.27h3.3M99.6 867.9h3.3M99.6 844.52h3.3M99.6 821.15h3.3M99.6 797.77h3.3M99.6 774.4h3.3M99.6 751.02h3.3M99.6 727.65h3.3M99.6 1241.9h6.3M99.6 1125.03h6.3M99.6 1008.15h6.3M99.6 891.27h6.3M99.6 774.4h6.3M552 1247.2h-3.3M552 1227.5h-3.3M552 1207.8h-3.3M552 1188.1h-3.3M552 1168.4h-3.3M552 1148.7h-3.3M552 1129h-3.3M552 1109.3h-3.3M552 1089.6h-3.3M552 1069.9h-3.3M552 1050.2h-3.3M552 1030.5h-3.3M552 1010.8h-3.3M552 991.1h-3.3M552 971.4h-3.3M552 951.7h-3.3M552 932h-3.3M552 912.3h-3.3M552 892.6h-3.3M552 872.9h-3.3M552 853.2h-3.3M552 833.5h-3.3M552 813.8h-3.3M552 794.1h-3.3M552 774.4h-3.3M552 754.7h-3.3M552 735h-3.3M552 715.3h-3.3M552 774.4h-6.3M552 872.9h-6.3M552 971.4h-6.3M552 1069.9h-6.3M552 1168.4h-6.3" stroke="#222" stroke-width="0.9" fill="none"/>
<rect x="31.39" y="1242.1" width="14.62" height="1.68"/>
<text transform="translate(49.07,1250.75) scale(1.1650,1)" font-size="24.889">200</text>
<rect x="32.55" y="1125.22" width="14.62" height="1.68"/>
<text transform="translate(49.07,1133.88) scale(1.1650,1)" font-size="24.889">150</text>
<rect x="32.55" y="1008.35" width="14.62" height="1.68"/>
<text transform="translate(49.07,1017) scale(1.1650,1)" font-size="24.889">100</text>
<rect x="46.32" y="891.47" width="14.62" height="1.68"/>
<text transform="translate(63.56,900.13) scale(1.1650,1)" font-size="24.889">50</text>
<text transform="translate(78.06,783.25) scale(1.1650,1)" font-size="24.889">0</text>
<text transform="translate(558.55,783.13) scale(1.1650,1)" font-size="24.706">0.0</text>
<rect x="559.7" y="873.1" width="14.62" height="1.68"/>
<text transform="translate(577.53,881.63) scale(1.1650,1)" font-size="24.706">0.1</text>
<rect x="559.7" y="971.6" width="14.62" height="1.68"/>
<text transform="translate(577.53,980.13) scale(1.1650,1)" font-size="24.706">0.2</text>
<rect x="559.7" y="1070.1" width="14.62" height="1.68"/>
<text transform="translate(577.53,1078.63) scale(1.1650,1)" font-size="24.706">0.3</text>
<rect x="559.7" y="1168.6" width="14.62" height="1.68"/>
<text transform="translate(577.53,1177.13) scale(1.1650,1)" font-size="24.706">0.4</text>
<text transform="translate(138.67,1288.55) scale(1.1650,1)" font-size="24.889">59000</text>
<text transform="translate(260.42,1288.55) scale(1.1650,1)" font-size="24.889">59500</text>
<text transform="translate(382.46,1288.55) scale(1.1650,1)" font-size="24.889">60000</text>
<text transform="translate(504.21,1288.55) scale(1.1650,1)" font-size="24.889">60500</text>
</g>
<g>
<line x1="808.9" y1="1265.4" x2="808.9" y2="707.3" stroke="#b2b2b2" stroke-width="0.85" stroke-dasharray="4.8 2.29"/>
<line x1="986.15" y1="1265.4" x2="986.15" y2="707.3" stroke="#b2b2b2" stroke-width="0.85" stroke-dasharray="4.8 2.29"/>
<line x1="685.8" y1="1242.22" x2="1138.1" y2="1242.22" stroke="#b2b2b2" stroke-width="0.85" stroke-dasharray="4.8 2.29"/>
<line x1="685.8" y1="1165.58" x2="1138.1" y2="1165.58" stroke="#b2b2b2" stroke-width="0.85" stroke-dasharray="4.8 2.29"/>
<line x1="685.8" y1="1088.94" x2="1138.1" y2="1088.94" stroke="#b2b2b2" stroke-width="0.85" stroke-dasharray="4.8 2.29"/>
<line x1="685.8" y1="1012.3" x2="1138.1" y2="1012.3" stroke="#b2b2b2" stroke-width="0.85" stroke-dasharray="4.8 2.29"/>
<line x1="685.8" y1="935.66" x2="1138.1" y2="935.66" stroke="#b2b2b2" stroke-width="0.85" stroke-dasharray="4.8 2.29"/>
<line x1="685.8" y1="859.02" x2="1138.1" y2="859.02" stroke="#b2b2b2" stroke-width="0.85" stroke-dasharray="4.8 2.29"/>
<line x1="685.8" y1="782.38" x2="1138.1" y2="782.38" stroke="#b2b2b2" stroke-width="0.85" stroke-dasharray="4.8 2.29"/>
<clipPath id="cd"><rect x="685.8" y="707.3" width="452.3" height="558.1"/></clipPath>
<g clip-path="url(#cd)">
<line x1="727.54" y1="1265.4" x2="727.54" y2="707.3" stroke="#d82a3a" stroke-width="1.5" stroke-dasharray="8 2.9"/>
<path d="M1078.98 1002.72H1082.98M1078.98 1079.36H1082.98" stroke="#111" stroke-width="1.1" fill="none"/>
<path d="M1077.38 1037.44L1084.58 1044.64M1077.38 1044.64L1084.58 1037.44" stroke="#000" stroke-width="1.5" fill="none"/>
<path d="M706.45 732.56V809.2M704.45 732.56H708.45M704.45 809.2H708.45" stroke="#cc2232" stroke-opacity="1" stroke-width="1.35" fill="none"/>
<circle cx="706.45" cy="770.88" r="4.1" fill="#e81e22" fill-opacity="1" stroke="#b81c28" stroke-width="0.6"/>
<path d="M706.45 752.11V828.75M704.45 752.11H708.45M704.45 828.75H708.45" stroke="#cc2232" stroke-opacity="1" stroke-width="1.35" fill="none"/>
<circle cx="706.45" cy="790.43" r="4.1" fill="#e81e22" fill-opacity="1" stroke="#b81c28" stroke-width="0.6"/>
<path d="M909.22 859.02V935.66M907.22 859.02H911.22M907.22 935.66H911.22" stroke="#cc2232" stroke-opacity="1" stroke-width="1.35" fill="none"/>
<circle cx="909.22" cy="897.34" r="4.1" fill="#e81e22" fill-opacity="1" stroke="#b81c28" stroke-width="0.6"/>
<path d="M909.22 980.49V1057.13M907.22 980.49H911.22M907.22 1057.13H911.22" stroke="#cc2232" stroke-opacity="1" stroke-width="1.35" fill="none"/>
<circle cx="909.22" cy="1018.81" r="4.1" fill="#e81e22" fill-opacity="1" stroke="#b81c28" stroke-width="0.6"/>
<path d="M916.31 928.38V1005.02M914.31 928.38H918.31M914.31 1005.02H918.31" stroke="#cc2232" stroke-opacity="1" stroke-width="1.35" fill="none"/>
<circle cx="916.31" cy="966.7" r="4.1" fill="#e81e22" fill-opacity="1" stroke="#b81c28" stroke-width="0.6"/>
<path d="M921.45 899.26V1129.18M919.45 899.26H923.45M919.45 1129.18H923.45" stroke="#cc2232" stroke-opacity="1" stroke-width="1.35" fill="none"/>
<circle cx="921.45" cy="1014.22" r="4.1" fill="#e81e22" fill-opacity="1" stroke="#b81c28" stroke-width="0.6"/>
<path d="M1071.58 966.32V1042.96M1069.58 966.32H1073.58M1069.58 1042.96H1073.58" stroke="#cc2232" stroke-opacity="1" stroke-width="1.35" fill="none"/>
<circle cx="1071.58" cy="1004.64" r="4.1" fill="#e81e22" fill-opacity="1" stroke="#b81c28" stroke-width="0.6"/>
<path d="M1080.98 1001.19V1077.83M1078.98 1001.19H1082.98M1078.98 1077.83H1082.98" stroke="#cc2232" stroke-opacity="1" stroke-width="1.35" fill="none"/>
<circle cx="1080.98" cy="1039.51" r="4.1" fill="#e81e22" fill-opacity="1" stroke="#b81c28" stroke-width="0.6"/>
<path d="M1098.17 1065.95V1142.59M1096.17 1065.95H1100.17M1096.17 1142.59H1100.17" stroke="#cc2232" stroke-opacity="1" stroke-width="1.35" fill="none"/>
<circle cx="1098.17" cy="1104.27" r="4.1" fill="#e81e22" fill-opacity="1" stroke="#b81c28" stroke-width="0.6"/>
<path d="M1102.07 1029.16V1105.8M1100.07 1029.16H1104.07M1100.07 1105.8H1104.07" stroke="#cc2232" stroke-opacity="1" stroke-width="1.35" fill="none"/>
<circle cx="1102.07" cy="1067.48" r="4.1" fill="#e81e22" fill-opacity="1" stroke="#b81c28" stroke-width="0.6"/>
<path d="M1117.85 1163.66V1240.3M1115.85 1163.66H1119.85M1115.85 1240.3H1119.85" stroke="#cc2232" stroke-opacity="1" stroke-width="1.35" fill="none"/>
<circle cx="1117.85" cy="1201.98" r="4.1" fill="#e81e22" fill-opacity="1" stroke="#b81c28" stroke-width="0.6"/>
<path d="M2177.09 1007.7V1084.34M2175.09 1007.7H2179.09M2175.09 1084.34H2179.09" stroke="#cc2232" stroke-opacity="1" stroke-width="1.35" fill="none"/>
<circle cx="2177.09" cy="1046.02" r="4.1" fill="#e81e22" fill-opacity="1" stroke="#b81c28" stroke-width="0.6"/>
<path d="M2533.19 1060.58V1137.22M2531.19 1060.58H2535.19M2531.19 1137.22H2535.19" stroke="#cc2232" stroke-opacity="1" stroke-width="1.35" fill="none"/>
<circle cx="2533.19" cy="1098.9" r="4.1" fill="#e81e22" fill-opacity="1" stroke="#b81c28" stroke-width="0.6"/>
<path d="M2694.66 875.11V951.75M2692.66 875.11H2696.66M2692.66 951.75H2696.66" stroke="#cc2232" stroke-opacity="1" stroke-width="1.35" fill="none"/>
<circle cx="2694.66" cy="913.43" r="4.1" fill="#e81e22" fill-opacity="1" stroke="#b81c28" stroke-width="0.6"/>
</g>
<rect x="685.8" y="707.3" width="452.3" height="558.1" fill="none" stroke="#1a1a1a" stroke-width="1.15"/>
<path d="M702.55 1265.4v-3.3M702.55 707.3v3.3M738 1265.4v-3.3M738 707.3v3.3M773.45 1265.4v-3.3M773.45 707.3v3.3M808.9 1265.4v-3.3M808.9 707.3v3.3M844.35 1265.4v-3.3M844.35 707.3v3.3M879.8 1265.4v-3.3M879.8 707.3v3.3M915.25 1265.4v-3.3M915.25 707.3v3.3M950.7 1265.4v-3.3M950.7 707.3v3.3M986.15 1265.4v-3.3M986.15 707.3v3.3M1021.6 1265.4v-3.3M1021.6 707.3v3.3M1057.05 1265.4v-3.3M1057.05 707.3v3.3M1092.5 1265.4v-3.3M1092.5 707.3v3.3M1127.95 1265.4v-3.3M1127.95 707.3v3.3M808.9 1265.4v-6.3M808.9 707.3v6.3M986.15 1265.4v-6.3M986.15 707.3v6.3M685.8 1261.38h3.3M685.8 1242.22h3.3M685.8 1223.06h3.3M685.8 1203.9h3.3M685.8 1184.74h3.3M685.8 1165.58h3.3M685.8 1146.42h3.3M685.8 1127.26h3.3M685.8 1108.1h3.3M685.8 1088.94h3.3M685.8 1069.78h3.3M685.8 1050.62h3.3M685.8 1031.46h3.3M685.8 1012.3h3.3M685.8 993.14h3.3M685.8 973.98h3.3M685.8 954.82h3.3M685.8 935.66h3.3M685.8 916.5h3.3M685.8 897.34h3.3M685.8 878.18h3.3M685.8 859.02h3.3M685.8 839.86h3.3M685.8 820.7h3.3M685.8 801.54h3.3M685.8 782.38h3.3M685.8 763.22h3.3M685.8 744.06h3.3M685.8 724.9h3.3M685.8 1242.22h6.3M685.8 1165.58h6.3M685.8 1088.94h6.3M685.8 1012.3h6.3M685.8 935.66h6.3M685.8 859.02h6.3M685.8 782.38h6.3M1138.1 1254.4h-3.3M1138.1 1238.26h-3.3M1138.1 1222.12h-3.3M1138.1 1205.98h-3.3M1138.1 1189.84h-3.3M1138.1 1173.7h-3.3M1138.1 1157.56h-3.3M1138.1 1141.42h-3.3M1138.1 1125.28h-3.3M1138.1 1109.14h-3.3M1138.1 1093h-3.3M1138.1 1076.86h-3.3M1138.1 1060.72h-3.3M1138.1 1044.58h-3.3M1138.1 1028.44h-3.3M1138.1 1012.3h-3.3M1138.1 996.16h-3.3M1138.1 980.02h-3.3M1138.1 963.88h-3.3M1138.1 947.74h-3.3M1138.1 931.6h-3.3M1138.1 915.46h-3.3M1138.1 899.32h-3.3M1138.1 883.18h-3.3M1138.1 867.04h-3.3M1138.1 850.9h-3.3M1138.1 834.76h-3.3M1138.1 818.62h-3.3M1138.1 802.48h-3.3M1138.1 786.34h-3.3M1138.1 770.2h-3.3M1138.1 754.06h-3.3M1138.1 737.92h-3.3M1138.1 721.78h-3.3M1138.1 770.2h-6.3M1138.1 850.9h-6.3M1138.1 931.6h-6.3M1138.1 1012.3h-6.3M1138.1 1093h-6.3M1138.1 1173.7h-6.3M1138.1 1254.4h-6.3" stroke="#222" stroke-width="0.9" fill="none"/>
<rect x="646.35" y="1242.42" width="14.62" height="1.68"/>
<text transform="translate(664.17,1251.07) scale(1.1650,1)" font-size="25.075">6</text>
<rect x="645.13" y="1165.78" width="14.62" height="1.68"/>
<text transform="translate(663.52,1174.68) scale(1.1650,1)" font-size="25.455">4</text>
<rect x="647.05" y="1089.14" width="14.62" height="1.68"/>
<text transform="translate(664.7,1098.04) scale(1.1650,1)" font-size="25.455">2</text>
<text transform="translate(664.56,1021.15) scale(1.1650,1)" font-size="24.889">0</text>
<text transform="translate(664.7,944.76) scale(1.1650,1)" font-size="25.455">2</text>
<text transform="translate(663.52,868.12) scale(1.1650,1)" font-size="25.455">4</text>
<text transform="translate(664.17,791.23) scale(1.1650,1)" font-size="25.075">6</text>
<text transform="translate(1144.65,778.93) scale(1.1650,1)" font-size="24.706">0.015</text>
<text transform="translate(1144.65,859.63) scale(1.1650,1)" font-size="24.706">0.010</text>
<text transform="translate(1144.65,940.33) scale(1.1650,1)" font-size="24.706">0.005</text>
<text transform="translate(1144.65,1021.03) scale(1.1650,1)" font-size="24.706">0.000</text>
<rect x="1145.8" y="1093.2" width="14.62" height="1.68"/>
<text transform="translate(1163.63,1101.73) scale(1.1650,1)" font-size="24.706">0.005</text>
<rect x="1145.8" y="1173.9" width="14.62" height="1.68"/>
<text transform="translate(1163.63,1182.43) scale(1.1650,1)" font-size="24.706">0.010</text>
<rect x="1145.8" y="1254.6" width="14.62" height="1.68"/>
<text transform="translate(1163.63,1263.13) scale(1.1650,1)" font-size="24.706">0.015</text>
<text transform="translate(772.37,1288.55) scale(1.1650,1)" font-size="24.889">59400</text>
<text transform="translate(949.62,1288.55) scale(1.1650,1)" font-size="24.889">59500</text>
</g>
<rect x="294.2" y="28.7" width="226.2" height="97.6" rx="3" ry="3" fill="#fff" fill-opacity="1" stroke="#cfcfcf" stroke-width="1"/>
<line x1="304.8" y1="47.9" x2="351.2" y2="47.9" stroke="#d82a3a" stroke-width="1.7" stroke-dasharray="7.5 3.0"/>
<path d="M328.1 63.3V86.4M325.9 63.3H330.3M325.9 86.4H330.3" stroke="#111" stroke-width="1.2" fill="none"/>
<path d="M324.7 72.3L331.5 79.1M324.7 79.1L331.5 72.3" stroke="#000" stroke-width="1.3" fill="none"/>
<path d="M328.1 91.2V113.9M325.9 91.2H330.3M325.9 113.9H330.3" stroke="#c83444" stroke-opacity="0.72" stroke-width="1.3" fill="none"/>
<circle cx="328.1" cy="102.5" r="4" fill="#dc2430" fill-opacity="0.82"/>
<text transform="translate(369.43,56.4) scale(1.2243,1)" font-size="19.712" >Glitch Epoch</text>
<text transform="translate(369.64,83.2) scale(0.9179,1)" font-size="20.606" >CHIME</text>
<text transform="translate(443.49,83.2) scale(0.9818,1)" font-size="20.763" >FRB</text>
<text transform="translate(369.64,110) scale(0.9247,1)" font-size="20.455" >CHIME</text>
<text transform="translate(443.32,110) scale(1.3157,1)" font-size="19.712" >Pulsar</text>
<path d="M431.6 87.1L442.2 67.9M431.6 114L442.2 94.8" stroke="#000" stroke-width="1.45" fill="none"/>
<text transform="translate(281.36,610.5) scale(0.8816,1)" font-size="20.458" style="stroke-width:0.6px">MJD</text>
<text transform="translate(889.63,608.6) scale(0.8909,1)" font-size="24.885" style="stroke-width:0.6px">MJD</text>
<text transform="translate(303.53,1315) scale(0.8716,1)" font-size="25.496" style="stroke-width:0.6px">MJD</text>
<text transform="translate(889.33,1315) scale(0.8777,1)" font-size="25.496" style="stroke-width:0.6px">MJD</text>
<text transform="translate(18.4,348.84) rotate(-90) scale(1.1320,1)" font-size="21.832">Residual (s)</text>
<text transform="translate(1253.4,387.52) rotate(-90) scale(1.1780,1)" font-size="25.954">Residual (phase)</text>
<text transform="translate(22.2,1059.71) rotate(-90) scale(1.1243,1)" font-size="26.870">Residual (s)</text>
<text transform="translate(1254,1086.5) rotate(-90) scale(1.1436,1)" font-size="26.260">Residual (phase)</text>
<text transform="translate(293.71,660.4) scale(0.9484,1)" font-size="27.912" style="stroke:none">(a)</text>
<text transform="translate(935.98,660.38) scale(0.9649,1)" font-size="28.022" style="stroke:none">(b)</text>
<text transform="translate(294.68,1365.65) scale(0.8887,1)" font-size="28.132" style="stroke:none">(c)</text>
<text transform="translate(935.97,1365.65) scale(0.9710,1)" font-size="28.132" style="stroke:none">(d)</text>
</svg>
</body></html>
